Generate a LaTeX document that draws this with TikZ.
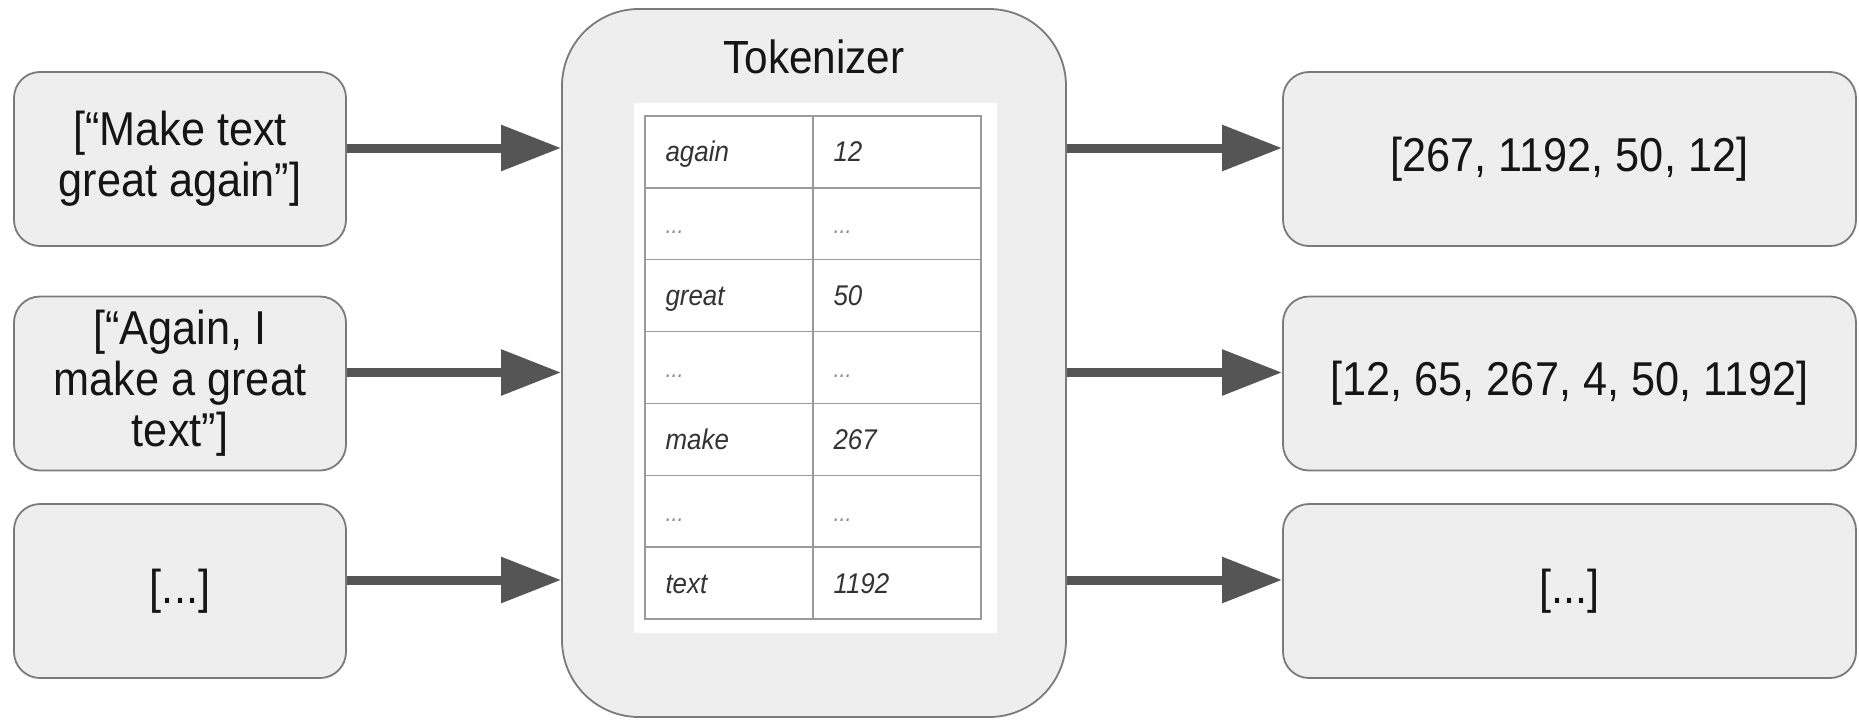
\documentclass[tikz,border=0pt]{standalone}
\usepackage{fontspec}
\setmainfont{Liberation Sans}[FakeStretch=0.91]
\usetikzlibrary{arrows.meta}
\definecolor{boxfill}{HTML}{EEEEEE}
\definecolor{boxline}{HTML}{7A7A7A}
\definecolor{arrowc}{HTML}{555555}
\definecolor{gridc}{HTML}{9A9A9A}
\definecolor{celltext}{HTML}{333333}
\definecolor{dotc}{HTML}{8A8A8A}
\definecolor{maintext}{HTML}{151515}
\begin{document}
\begin{tikzpicture}[x=1pt,y=-1pt,
  sidebox/.style={draw=boxline, fill=boxfill, line width=1.8pt, rounded corners=26pt,
    minimum height=174pt, align=center, inner sep=0pt, text=maintext,
    font=\fontsize{47.5}{51}\selectfont},
  inbox/.style={sidebox, minimum width=332pt},
  outbox/.style={sidebox, minimum width=573pt},
  tokbox/.style={draw=boxline, fill=boxfill, line width=1.8pt, rounded corners=77pt,
    minimum width=504pt, minimum height=708pt, inner sep=0pt},
  cellbox/.style={draw=gridc, line width=1.4pt, fill=white, minimum width=168pt,
    minimum height=71.86pt, inner sep=0pt},
  word/.style={anchor=base west, inner sep=0pt, text=celltext,
    font=\fontsize{28.5}{32}\selectfont\itshape},
  dots/.style={word, text=dotc, font=\fontsize{24}{28}\selectfont\itshape},
  arr/.style={draw=arrowc, line width=9pt, -{Triangle[length=60pt,width=44pt]}, arrowc}
]
\useasboundingbox (0,0) rectangle (1859,720);

% input boxes
\node[inbox] (in1) at (180,159) {[“Make text\\great again”]};
\node[inbox] (in2) at (180,383.5) {[“Again, I\\make a great\\text”]};
\node[inbox] (in3) at (180,591) {[...]};

% output boxes
\node[outbox] (out1) at (1569.5,159) {[267, 1192, 50, 12]};
\node[outbox] (out2) at (1569.5,383.5) {[12, 65, 267, 4, 50, 1192]};
\node[outbox] (out3) at (1569.5,591) {[...]};

% tokenizer
\node[tokbox] (tok) at (814,363) {};
\node[anchor=base, inner sep=0pt, text=maintext, font=\fontsize{46.5}{52}\selectfont]
  (toklabel) at (814,73) {Tokenizer};
\node[fill=white, minimum width=363pt, minimum height=530pt, inner sep=0pt] (back) at (815.5,368) {};

% table cells
\node[cellbox] (a1) at (729,151.9) {};
\node[cellbox] (b1) at (897,151.9) {};
\node[cellbox] (a2) at (729,223.8) {};
\node[cellbox] (b2) at (897,223.8) {};
\node[cellbox] (a3) at (729,295.6) {};
\node[cellbox] (b3) at (897,295.6) {};
\node[cellbox] (a4) at (729,367.5) {};
\node[cellbox] (b4) at (897,367.5) {};
\node[cellbox] (a5) at (729,439.4) {};
\node[cellbox] (b5) at (897,439.4) {};
\node[cellbox] (a6) at (729,511.3) {};
\node[cellbox] (b6) at (897,511.3) {};
\node[cellbox] (a7) at (729,583.1) {};
\node[cellbox] (b7) at (897,583.1) {};

% table texts
\node[word] (wa1) at ([xshift=21pt,yshift=-10pt]a1.west) {again};
\node[word] (wb1) at ([xshift=21pt,yshift=-10pt]b1.west) {12};
\node[dots] (wa2) at ([xshift=21pt,yshift=-10pt]a2.west) {...};
\node[dots] (wb2) at ([xshift=21pt,yshift=-10pt]b2.west) {...};
\node[word] (wa3) at ([xshift=21pt,yshift=-10pt]a3.west) {great};
\node[word] (wb3) at ([xshift=21pt,yshift=-10pt]b3.west) {50};
\node[dots] (wa4) at ([xshift=21pt,yshift=-10pt]a4.west) {...};
\node[dots] (wb4) at ([xshift=21pt,yshift=-10pt]b4.west) {...};
\node[word] (wa5) at ([xshift=21pt,yshift=-10pt]a5.west) {make};
\node[word] (wb5) at ([xshift=21pt,yshift=-10pt]b5.west) {267};
\node[dots] (wa6) at ([xshift=21pt,yshift=-10pt]a6.west) {...};
\node[dots] (wb6) at ([xshift=21pt,yshift=-10pt]b6.west) {...};
\node[word] (wa7) at ([xshift=21pt,yshift=-10pt]a7.west) {text};
\node[word] (wb7) at ([xshift=21pt,yshift=-10pt]b7.west) {1192};

% arrows
\draw[arr] ([yshift=11pt]in1.east) -- ([yshift=11pt]in1.east -| tok.west);
\draw[arr] ([yshift=11pt]in2.east) -- ([yshift=11pt]in2.east -| tok.west);
\draw[arr] ([yshift=11pt]in3.east) -- ([yshift=11pt]in3.east -| tok.west);
\draw[arr] ([yshift=11pt]out1.west -| tok.east) -- ([yshift=11pt]out1.west);
\draw[arr] ([yshift=11pt]out2.west -| tok.east) -- ([yshift=11pt]out2.west);
\draw[arr] ([yshift=11pt]out3.west -| tok.east) -- ([yshift=11pt]out3.west);
\end{tikzpicture}
\end{document}
